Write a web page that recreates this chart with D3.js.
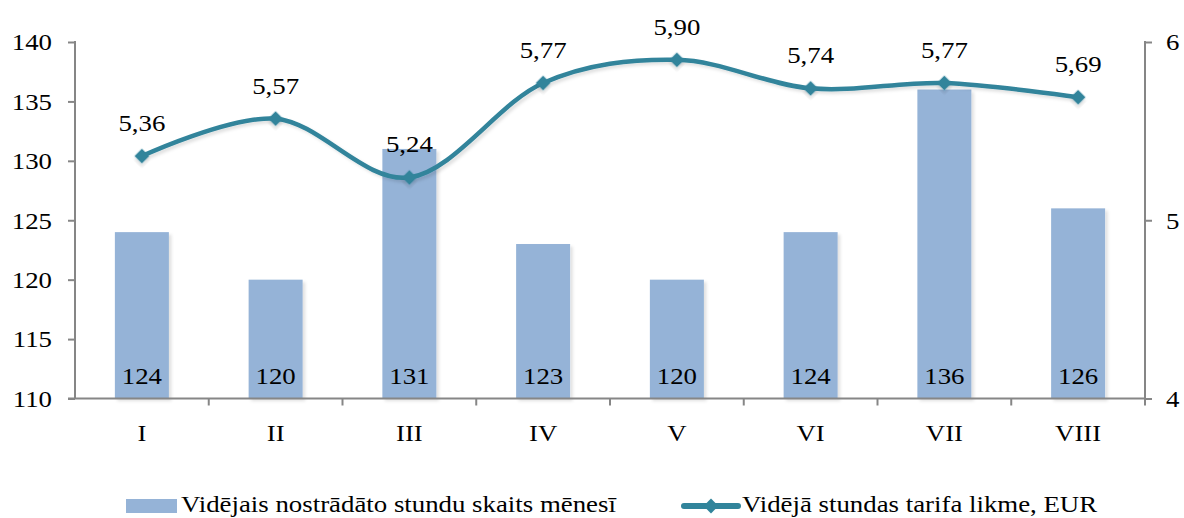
<!DOCTYPE html>
<html>
<head>
<meta charset="utf-8">
<script src="https://cdn.jsdelivr.net/npm/d3@7"></script>
<style>
body { margin: 0; background: #fff; }
svg text { font-family: "Liberation Serif", "Times New Roman", Tinos, "DejaVu Serif", serif; fill: #000; }
</style>
</head>
<body>
<div id="chart"></div>
<script>
// data
var months = ["I", "II", "III", "IV", "V", "VI", "VII", "VIII"];
var hours = [124, 120, 131, 123, 120, 124, 136, 126];
var rate = [5.36, 5.57, 5.24, 5.77, 5.90, 5.74, 5.77, 5.69];
var leftTicks = [110, 115, 120, 125, 130, 135, 140];
var rightTicks = [4, 5, 6];
var barName = "Vidējais nostrādāto stundu skaits mēnesī";
var lineName = "Vidējā stundas tarifa likme, EUR";

var W = 1184, H = 518;
var plotL = 75, plotR = 1145, plotT = 42, plotB = 398.5;
var serif = "'Liberation Serif', 'Times New Roman', Tinos, 'DejaVu Serif', serif";
var fs = "22.5px";
var barColor = "#95b3d7", lineColor = "#31849b", axisColor = "#868686";

var svg = d3.select("#chart").append("svg")
	.attr("width", W)
	.attr("height", H);

// the reference text is a bit wider than plain Times, measure and stretch
var probe = svg.append("text").text(barName)
	.style("font-size", fs).style("font-family", serif);
var sx = 435 / probe.node().getComputedTextLength();
probe.remove();

var defs = svg.append("defs");
var f = defs.append("filter").attr("id", "shadow")
	.attr("x", "-20%").attr("y", "-20%").attr("width", "150%").attr("height", "150%");
f.append("feDropShadow")
	.attr("dx", 2.5).attr("dy", 2.5).attr("stdDeviation", 1.5)
	.attr("flood-color", "#000").attr("flood-opacity", 0.12);

var xb = d3.scaleBand().domain(months).range([plotL, plotR]);
var yL = d3.scaleLinear().domain([110, 140]).range([plotB, plotT]);
var yR = d3.scaleLinear().domain([4, 6]).range([plotB, plotT]);
var cx = function(i){ return xb(months[i]) + xb.bandwidth()/2; };

// place a text at (x,y) with the horizontal stretch
var label = function(sel, x, y){
	sel.attr("x", 0).attr("y", 0)
		.attr("transform", "translate(" + x + "," + y + ") scale(" + sx + ",1)")
		.style("font-size", fs)
		.style("font-family", serif)
		.attr("fill", "#000");
};

// bars
svg.selectAll("rect.bar")
	.data(hours)
	.enter()
	.append("rect")
	.attr("class", "bar")
	.attr("x", function(d, i){ return cx(i) - 27; })
	.attr("width", 54)
	.attr("y", function(d){ return yL(d); })
	.attr("height", function(d){ return plotB - yL(d); })
	.attr("fill", barColor)
	.attr("filter", "url(#shadow)");

// axes
var gl = svg.append("g").attr("transform", "translate(" + plotL + ",0)")
	.call(d3.axisLeft(yL).tickValues(leftTicks).tickSize(7));
var gr = svg.append("g").attr("transform", "translate(" + plotR + ",0)")
	.call(d3.axisRight(yR).tickValues(rightTicks).tickSize(7).tickFormat(d3.format("d")));
var gx = svg.append("g").attr("transform", "translate(0," + plotB + ")")
	.call(d3.axisBottom(xb).tickSize(0));

[gl, gr, gx].forEach(function(g){
	g.attr("font-family", null).attr("font-size", null);
	g.selectAll("path").attr("stroke", axisColor).attr("stroke-width", 2);
	g.selectAll("line").attr("stroke", axisColor).attr("stroke-width", 2);
	g.selectAll("text").attr("dy", "0.35em");
});
gl.selectAll(".tick text").each(function(){ label(d3.select(this), -23, 0); });
gr.selectAll(".tick text").each(function(){ label(d3.select(this), 21, 0); });
gx.selectAll(".tick text").attr("dy", null).each(function(){ label(d3.select(this), 0, 42); });
gl.select("path").attr("d", "M0," + (plotT - 1) + "V" + plotB);
gr.select("path").attr("d", "M0," + (plotT - 1) + "V" + (plotB + 7));
gx.select("path").attr("d", "M" + (plotL - 7) + ",0H" + plotR);

// x boundary ticks
gx.selectAll("line.sep")
	.data(months.slice(1))
	.enter()
	.append("line")
	.attr("class", "sep")
	.attr("x1", function(d){ return xb(d); })
	.attr("x2", function(d){ return xb(d); })
	.attr("y1", 0).attr("y2", 7)
	.attr("stroke", axisColor).attr("stroke-width", 2);

// bar labels
svg.selectAll("text.blab")
	.data(hours)
	.enter()
	.append("text")
	.attr("class", "blab")
	.attr("text-anchor", "middle")
	.text(function(d){ return d; })
	.each(function(d, i){ label(d3.select(this), cx(i), 384); });

// line
var line = d3.line()
	.x(function(d, i){ return cx(i); })
	.y(function(d){ return yR(d); })
	.curve(d3.curveCardinal.tension(0));

svg.append("path")
	.datum(rate)
	.attr("d", line)
	.attr("fill", "none")
	.attr("stroke", lineColor)
	.attr("stroke-width", 4.5)
	.attr("filter", "url(#shadow)");

var diamond = d3.symbol().type(d3.symbolSquare).size(110);
svg.selectAll("path.marker")
	.data(rate)
	.enter()
	.append("path")
	.attr("class", "marker")
	.attr("d", diamond)
	.attr("transform", function(d, i){
		return "translate(" + cx(i) + "," + yR(d) + ") rotate(45)";
	})
	.attr("fill", lineColor)
	.attr("filter", "url(#shadow)");

svg.selectAll("text.llab")
	.data(rate)
	.enter()
	.append("text")
	.attr("class", "llab")
	.attr("text-anchor", "middle")
	.text(function(d){ return d.toFixed(2).replace(".", ","); })
	.each(function(d, i){ label(d3.select(this), cx(i), yR(d) - 25); });

// legend
var lg = svg.append("g");
lg.append("rect")
	.attr("x", 126).attr("y", 499).attr("width", 51).attr("height", 14)
	.attr("fill", barColor);
lg.append("text").text(barName).call(label, 181, 512);
lg.append("line")
	.attr("x1", 684).attr("x2", 738).attr("y1", 506).attr("y2", 506)
	.attr("stroke", lineColor).attr("stroke-width", 6).attr("stroke-linecap", "round");
lg.append("path")
	.attr("d", diamond)
	.attr("transform", "translate(711,506) rotate(45)")
	.attr("fill", lineColor);
lg.append("text").text(lineName).call(label, 742, 512);
</script>
</body>
</html>
